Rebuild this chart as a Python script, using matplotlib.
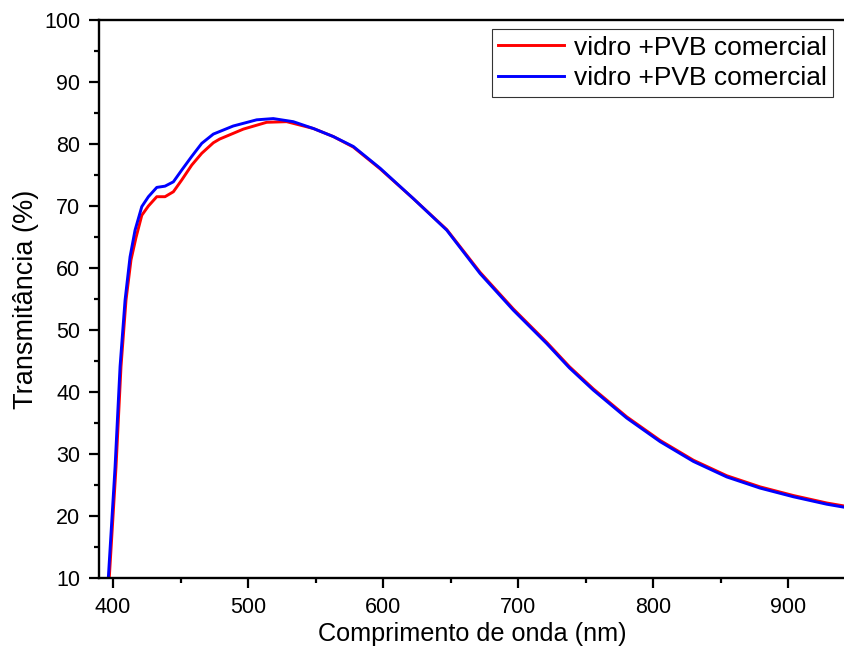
import matplotlib
matplotlib.use("Agg")
import matplotlib.pyplot as plt
from matplotlib.ticker import MultipleLocator

plt.rcParams['font.family'] = ['Liberation Sans', 'DejaVu Sans']

wl_blue = [396.5, 401.5, 405.2, 408.9, 412.6, 416.3, 421.3, 426.2, 432.4, 438.5, 444.7,
           450.9, 458.3, 465.7, 474.3, 489.0, 506.4, 518.7, 533.5, 548.4, 563.2, 578.0,
           597.8, 622.4, 647.2, 671.9, 696.5, 721.3, 738.0, 755.8, 780.5, 805.2, 829.9,
           854.6, 879.3, 904.0, 928.7, 942.0]
t_blue = [10.0, 27.9, 44.1, 54.8, 61.8, 66.1, 69.9, 71.5, 73.0, 73.2, 73.9,
          75.8, 78.0, 80.1, 81.6, 82.9, 83.9, 84.1, 83.6, 82.5, 81.2, 79.6,
          76.1, 71.2, 66.1, 59.1, 53.2, 47.8, 43.9, 40.3, 35.8, 32.0, 28.8,
          26.3, 24.5, 23.1, 21.9, 21.4]

wl_red = [397.2, 402.2, 405.9, 409.6, 413.3, 417.0, 421.3, 426.2, 432.4, 438.5, 444.7,
          450.9, 458.3, 465.7, 474.3, 479.0, 496.5, 513.8, 528.6, 548.4, 563.2, 578.0,
          597.8, 622.4, 647.2, 671.9, 696.5, 721.3, 738.0, 755.8, 780.5, 805.2, 829.9,
          854.6, 879.3, 904.0, 928.7, 942.0]
t_red = [10.0, 27.9, 44.1, 54.8, 61.3, 64.9, 68.5, 70.0, 71.5, 71.5, 72.3,
         74.2, 76.6, 78.5, 80.2, 80.8, 82.4, 83.5, 83.6, 82.5, 81.2, 79.5,
         76.0, 71.2, 66.2, 59.3, 53.4, 48.0, 44.1, 40.5, 36.0, 32.2, 29.0,
         26.5, 24.7, 23.3, 22.1, 21.6]

labels = ["vidro +PVB comercial", "vidro +PVB comercial"]

fig = plt.figure(figsize=(8.45, 6.55), dpi=100)
ax = fig.add_axes([99/845, 77/655, 746/845, 558/655])

ax.plot(wl_red, t_red, color='#ff0000', lw=2.1, label=labels[0])
ax.plot(wl_blue, t_blue, color='#0000ff', lw=2.1, label=labels[1])

ax.set_xlim(389.6, 942.2)
ax.set_ylim(10, 100)
ax.xaxis.set_major_locator(MultipleLocator(100))
ax.xaxis.set_minor_locator(MultipleLocator(50))
ax.yaxis.set_major_locator(MultipleLocator(10))
ax.yaxis.set_minor_locator(MultipleLocator(5))
ax.tick_params(which='both', direction='out', width=1.6, labelsize=15.5, top=False, right=False)
ax.tick_params(which='major', length=7.5, pad=6)
ax.tick_params(which='minor', length=3.7)
for s in ['left', 'bottom', 'top']:
    ax.spines[s].set_linewidth(1.7)
ax.spines['right'].set_visible(False)

ax.set_xlabel("Comprimento de onda (nm)", fontsize=18.2, labelpad=3)
ax.set_ylabel("Transmitância (%)", fontsize=19.5, labelpad=4)

leg = ax.legend(loc='upper right', bbox_to_anchor=(0.984, 0.984), borderaxespad=0,
                fontsize=19, handlelength=2.5, frameon=True, fancybox=False,
                borderpad=0.25, labelspacing=0.25, handletextpad=0.35)
leg.get_frame().set_edgecolor('black')
leg.get_frame().set_linewidth(0.8)

fig.savefig("out.png", dpi=100)
